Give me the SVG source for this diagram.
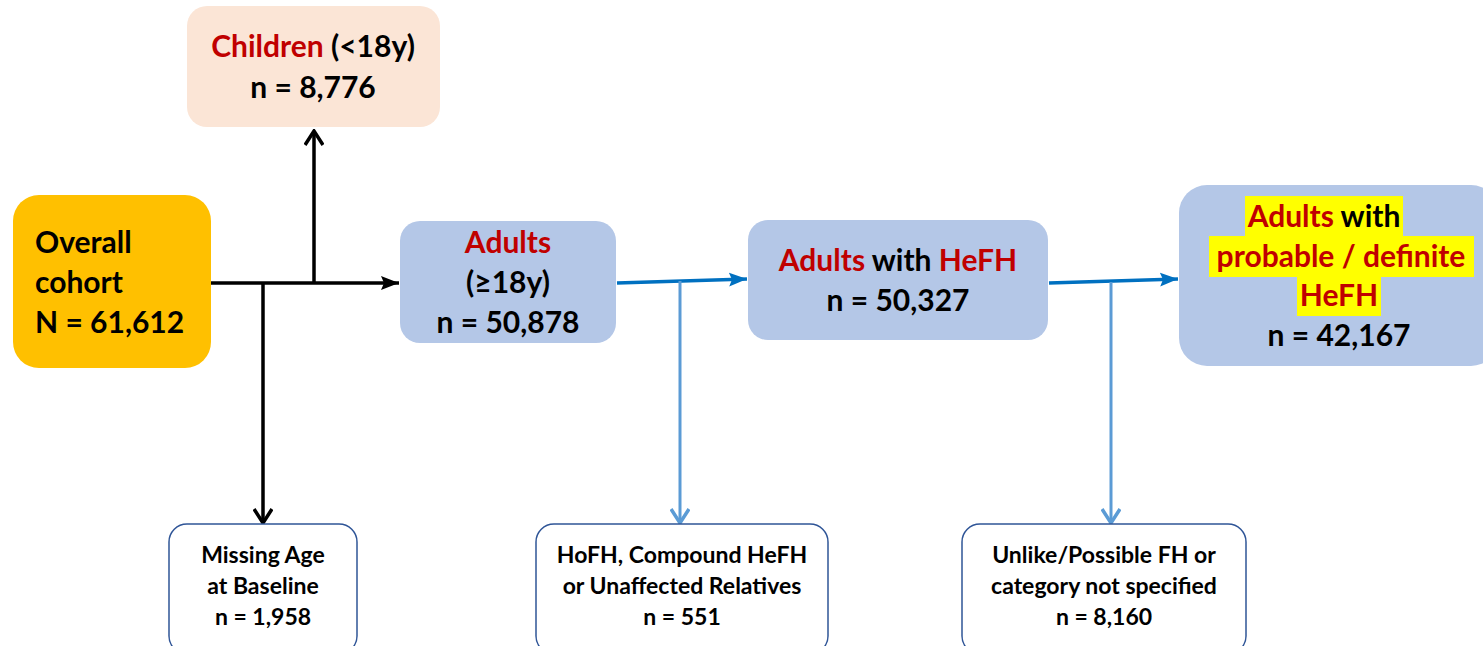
<svg xmlns="http://www.w3.org/2000/svg" width="1483" height="646" viewBox="0 0 1483 646">
<style>
text{font-family:Lato,"Open Sans","Liberation Sans",sans-serif;font-weight:bold;fill:#000}
.big{font-size:30px}
.sm{font-size:23px}
.red{fill:#C00000}
.c{text-anchor:middle}
.blue{fill:#B4C7E7}
.out{fill:#fff;stroke:#2F5597;stroke-width:1.5}
.k{stroke:#000;stroke-width:3.5;fill:none}
.b1{stroke:#0070C0;stroke-width:3.5;fill:none}
.b2{stroke:#5B9BD5;stroke-width:3;fill:none}
</style>
<defs>
<marker id="chevK" viewBox="0 0 20 20" refX="18" refY="10" markerWidth="20" markerHeight="20" markerUnits="userSpaceOnUse" orient="auto"><path d="M4,1 L18,10 L4,19" fill="none" stroke="#000" stroke-width="3.5"/></marker>
<marker id="triK" viewBox="0 0 18 18" refX="18" refY="9" markerWidth="18" markerHeight="18" markerUnits="userSpaceOnUse" orient="auto"><path d="M0,2 L18,9 L0,16 L3,9 Z" fill="#000"/></marker>
<marker id="triB" viewBox="0 0 18 18" refX="18" refY="9" markerWidth="18" markerHeight="18" markerUnits="userSpaceOnUse" orient="auto"><path d="M0,2 L18,9 L0,16 L3,9 Z" fill="#0070C0"/></marker>
<marker id="chevB" viewBox="0 0 20 20" refX="18" refY="10" markerWidth="20" markerHeight="20" markerUnits="userSpaceOnUse" orient="auto"><path d="M4,1 L18,10 L4,19" fill="none" stroke="#5B9BD5" stroke-width="3.5"/></marker>
</defs>

<g id="connectors">
<line class="k" x1="211" y1="283" x2="399" y2="283" marker-end="url(#triK)"/>
<line class="k" x1="314" y1="283" x2="314" y2="131" marker-end="url(#chevK)"/>
<line class="k" x1="263" y1="283" x2="263" y2="523" marker-end="url(#chevK)"/>
<line class="b1" x1="617" y1="283" x2="747" y2="279" marker-end="url(#triB)"/>
<line class="b2" x1="680" y1="281" x2="680" y2="523" marker-end="url(#chevB)"/>
<line class="b1" x1="1049" y1="283" x2="1178" y2="279" marker-end="url(#triB)"/>
<line class="b2" x1="1111" y1="282" x2="1111" y2="523" marker-end="url(#chevB)"/>
</g>

<g id="children">
<rect x="187" y="6" width="253" height="121" rx="20" fill="#FBE5D6"/>
<text class="big c" x="313" y="57"><tspan class="red">Children</tspan> (&lt;18y)</text>
<text class="big c" x="313" y="98">n = 8,776</text>
</g>

<g id="overall">
<rect x="13" y="195" width="198" height="173" rx="26" fill="#FFC000"/>
<text class="big" x="35" y="253">Overall</text>
<text class="big" x="35" y="293">cohort</text>
<text class="big" x="35" y="333">N = 61,612</text>
</g>

<g id="adults">
<rect class="blue" x="400" y="221" width="216" height="122" rx="20"/>
<text class="big c red" x="508" y="253">Adults</text>
<text class="big c" x="508" y="293">(≥18y)</text>
<text class="big c" x="508" y="333">n = 50,878</text>
</g>

<g id="hefh">
<rect class="blue" x="748" y="220" width="300" height="120" rx="20"/>
<text class="big c" x="898" y="271"><tspan class="red">Adults</tspan> with <tspan class="red">HeFH</tspan></text>
<text class="big c" x="898" y="311">n = 50,327</text>
</g>

<g id="probable">
<rect class="blue" x="1179" y="185" width="320" height="181" rx="28"/>
<rect x="1245" y="196" width="158" height="41" fill="#FFFF00"/>
<rect x="1209" y="236" width="265" height="41" fill="#FFFF00"/>
<rect x="1297" y="276" width="84" height="40" fill="#FFFF00"/>
<text class="big c" x="1324" y="227"><tspan class="red">Adults</tspan> with</text>
<text class="big c red" x="1341" y="267">probable / definite</text>
<text class="big c red" x="1339" y="306">HeFH</text>
<text class="big c" x="1339" y="346">n = 42,167</text>
</g>

<g id="missing">
<rect class="out" x="169" y="524" width="188" height="130" rx="18"/>
<text class="sm c" x="263" y="563">Missing Age</text>
<text class="sm c" x="263" y="594">at Baseline</text>
<text class="sm c" x="263" y="625">n = 1,958</text>
</g>

<g id="hofh">
<rect class="out" x="536" y="524" width="292" height="130" rx="18"/>
<text class="sm c" x="682" y="563">HoFH, Compound HeFH</text>
<text class="sm c" x="682" y="594">or Unaffected Relatives</text>
<text class="sm c" x="682" y="625">n = 551</text>
</g>

<g id="unlike">
<rect class="out" x="962" y="524" width="284" height="130" rx="18"/>
<text class="sm c" x="1104" y="563">Unlike/Possible FH or</text>
<text class="sm c" x="1104" y="594">category not specified</text>
<text class="sm c" x="1104" y="625">n = 8,160</text>
</g>
</svg>
